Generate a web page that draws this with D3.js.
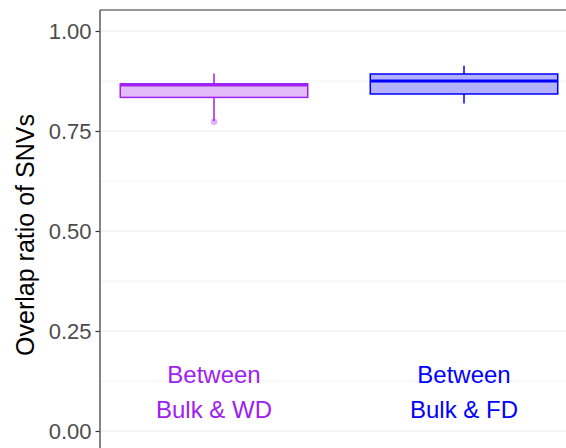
<!DOCTYPE html>
<html>
<head>
<meta charset="utf-8">
<script src="https://cdn.jsdelivr.net/npm/d3@7"></script>
<style>
  html, body { margin: 0; padding: 0; background: #fff; }
  svg { display: block; font-family: "Liberation Sans", Arial, sans-serif; }
</style>
</head>
<body>
<svg id="chart" width="566" height="448"></svg>
<script>
// Box statistics for each comparison
const groups = ["WD", "FD"];
const labelLine1 = ["Between", "Between"];
const labelLine2 = ["Bulk & WD", "Bulk & FD"];
const colors = ["#A020F0", "#0000FF"];
const whiskerLow = [0.775, 0.819];
const q1 = [0.834, 0.8425];
const median = [0.865, 0.875];
const q3 = [0.868, 0.8925];
const whiskerHigh = [0.894, 0.913];
const points = [{ g: "WD", v: 0.773 }];
const yTicks = [0, 0.25, 0.5, 0.75, 1.0];
const yMinor = [0.125, 0.375, 0.625, 0.875];

const svg = d3.select("#chart");
const W = 566, H = 448;
const panelLeft = 100, panelTop = 10;

const x = d3.scaleBand().domain(groups).range([89, 589]).padding(0);
const y = d3.scaleLinear().domain([0, 1]).range([431, 31]);
const boxW = x.bandwidth() * 0.75;

// panel grid
const grid = svg.append("g");
grid.selectAll("line.minor").data(yMinor).join("line")
  .attr("x1", panelLeft).attr("x2", W)
  .attr("y1", d => y(d)).attr("y2", d => y(d))
  .attr("stroke", "#F2F2F2").attr("stroke-width", 1);
grid.selectAll("line.major").data(yTicks).join("line")
  .attr("x1", panelLeft).attr("x2", W)
  .attr("y1", d => y(d)).attr("y2", d => y(d))
  .attr("stroke", "#EBEBEB").attr("stroke-width", 1.2);

// panel border (left and top visible)
svg.append("line").attr("x1", panelLeft).attr("x2", panelLeft)
  .attr("y1", panelTop).attr("y2", H).attr("stroke", "#333").attr("stroke-width", 1.2);
svg.append("line").attr("x1", panelLeft).attr("x2", W)
  .attr("y1", panelTop).attr("y2", panelTop).attr("stroke", "#333").attr("stroke-width", 1.2);

// y axis
const yAxis = d3.axisLeft(y).tickValues(yTicks).tickFormat(d3.format(".2f")).tickSize(4).tickPadding(4);
const ag = svg.append("g").attr("transform", `translate(${panelLeft - 0.5},0)`).call(yAxis);
ag.select(".domain").remove();
ag.selectAll(".tick line").attr("stroke", "#333").attr("stroke-width", 1.2);
ag.selectAll(".tick text").attr("fill", "#4D4D4D").style("font-size", "22px")
  .style("font-family", "'Liberation Sans', Arial, sans-serif");

svg.append("text")
  .attr("transform", `translate(34,${(panelTop + H) / 2 + 6}) rotate(-90)`)
  .attr("text-anchor", "middle")
  .style("font-size", "25px").attr("fill", "#000")
  .text("Overlap ratio of SNVs");

// boxes
const boxes = svg.append("g").selectAll("g").data(groups).join("g");
boxes.each(function (g, i) {
  const s = d3.select(this);
  const cx = x(g) + x.bandwidth() / 2;
  const c = colors[i];
  s.append("line").attr("x1", cx).attr("x2", cx)
    .attr("y1", y(whiskerHigh[i])).attr("y2", y(q3[i]))
    .attr("stroke", c).attr("stroke-width", 1.5);
  s.append("line").attr("x1", cx).attr("x2", cx)
    .attr("y1", y(q1[i])).attr("y2", y(whiskerLow[i]))
    .attr("stroke", c).attr("stroke-width", 1.5);
  s.append("rect")
    .attr("x", cx - boxW / 2).attr("width", boxW)
    .attr("y", y(q3[i])).attr("height", y(q1[i]) - y(q3[i]))
    .attr("fill", c).attr("fill-opacity", 0.3)
    .attr("stroke", c).attr("stroke-width", 1.5);
  s.append("line").attr("x1", cx - boxW / 2).attr("x2", cx + boxW / 2)
    .attr("y1", y(median[i])).attr("y2", y(median[i]))
    .attr("stroke", c).attr("stroke-width", 3);
});

// individual points
svg.append("g").selectAll("circle").data(points).join("circle")
  .attr("cx", d => x(d.g) + x.bandwidth() / 2)
  .attr("cy", d => y(d.v))
  .attr("r", 3.3)
  .attr("fill", d => colors[groups.indexOf(d.g)])
  .attr("fill-opacity", 0.35);

// group labels inside the panel
const labels = svg.append("g").selectAll("g").data(groups).join("g");
labels.each(function (g, i) {
  const cx = x(g) + x.bandwidth() / 2;
  const t = d3.select(this);
  t.append("text").attr("x", cx).attr("y", 383).attr("text-anchor", "middle")
    .attr("fill", colors[i]).style("font-size", "24px").text(labelLine1[i]);
  t.append("text").attr("x", cx).attr("y", 418).attr("text-anchor", "middle")
    .attr("fill", colors[i]).style("font-size", "24px").text(labelLine2[i]);
});
</script>
</body>
</html>
